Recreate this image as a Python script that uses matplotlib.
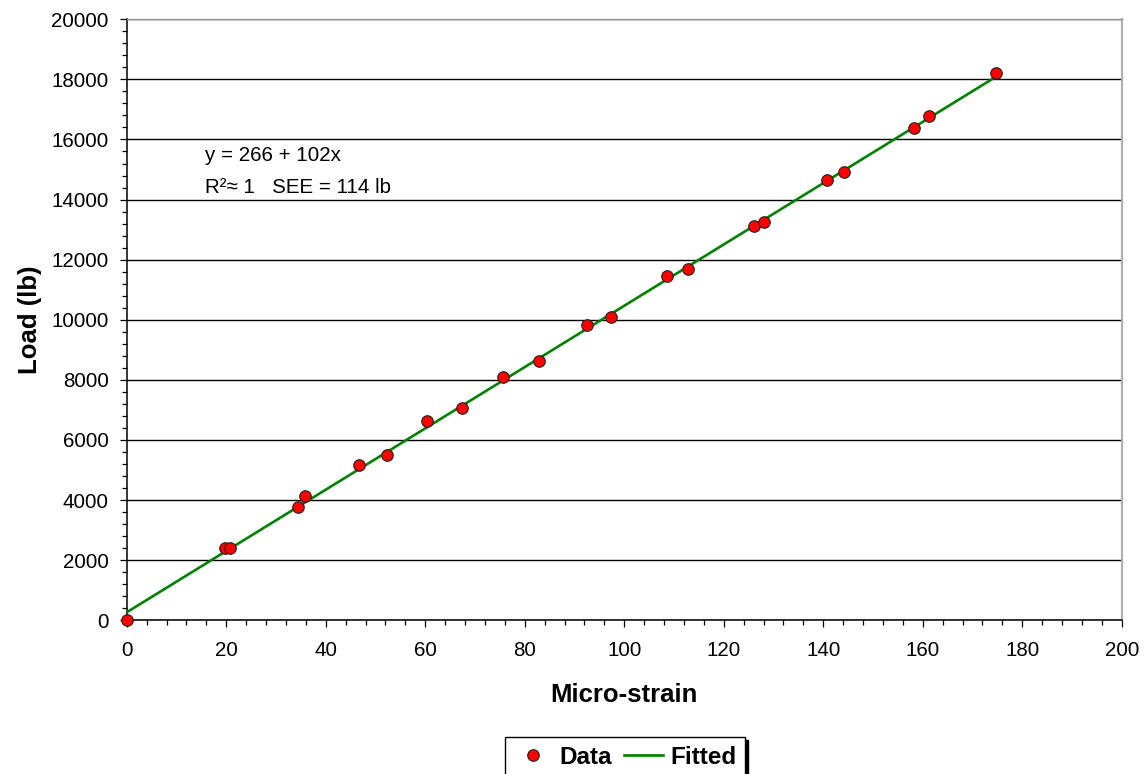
import matplotlib
matplotlib.use("Agg")
import matplotlib.pyplot as plt
from matplotlib.ticker import MultipleLocator
import numpy as np

plt.rcParams['font.family'] = ['Liberation Sans', 'DejaVu Sans']

# Calibration readings
strain = [0, 19.8, 20.8, 34.5, 35.8, 46.6, 52.3, 60.3, 67.3, 75.6, 82.9,
          92.6, 97.3, 108.6, 112.8, 126.1, 128.0, 140.8, 144.2, 158.2,
          161.2, 174.7]
load = [0, 2400, 2400, 3770, 4126, 5158, 5500, 6622, 7075, 8107, 8629,
        9837, 10100, 11448, 11700, 13121, 13255, 14652, 14918, 16373,
        16772, 18200]

# Linear fit parameters
intercept = 266
slope = 102
see = 114

fig = plt.figure(figsize=(11.46, 7.74), dpi=100)
ax = fig.add_axes([0.1106, 0.1986, 0.8682, 0.7765])

fit_x = np.array([min(strain), max(strain)])
fit_y = intercept + slope * fit_x
line_fit, = ax.plot(fit_x, fit_y, color='#008000', lw=1.9, zorder=3, label='Fitted')
pts, = ax.plot(strain, load, linestyle='none', marker='o', markersize=8.3,
               markerfacecolor='#ff0000', markeredgecolor='#202020',
               markeredgewidth=0.8, zorder=4, clip_on=False, label='Data')

ax.set_xlim(0, 200)
ax.set_ylim(0, 20000)
ax.xaxis.set_major_locator(MultipleLocator(20))
ax.xaxis.set_minor_locator(MultipleLocator(4))
ax.yaxis.set_major_locator(MultipleLocator(2000))
ax.yaxis.set_minor_locator(MultipleLocator(400))

ax.yaxis.grid(True, which='major', color='black', lw=1.0)
ax.set_axisbelow(True)

ax.tick_params(axis='both', which='major', direction='out', length=5,
               width=0.9, labelsize=14.8, color='black')
ax.tick_params(axis='both', which='minor', direction='out', length=3.5,
               width=0.9, color='black')
ax.tick_params(axis='x', which='major', pad=10)
ax.tick_params(axis='y', which='major', pad=8)

for side in ('left', 'bottom'):
    ax.spines[side].set_color('black')
    ax.spines[side].set_linewidth(1.1)
ax.spines['top'].set_color('#9a9a9a')
ax.spines['top'].set_linewidth(1.0)
ax.spines['right'].set_color('#b0b0b0')
ax.spines['right'].set_linewidth(1.6)

ax.set_xlabel('Micro-strain', fontsize=18.5, fontweight='bold')
ax.xaxis.label.set_va('center')
ax.xaxis.set_label_coords(0.5, -0.124)
ax.set_ylabel('Load (lb)', fontsize=18.5, fontweight='bold')
ax.yaxis.label.set_va('center')
ax.yaxis.set_label_coords(-0.097, 0.5)

ax.text(15.7, 15285, f'y = {intercept} + {slope}x', fontsize=14.8,
        va='baseline', ha='left')
ax.text(15.7, 14226, f'R\u00b2\u2248 1   SEE = {see} lb', fontsize=14.8,
        va='baseline', ha='left')

leg = fig.legend(handles=[pts, line_fit], labels=['Data', 'Fitted'],
                 loc='upper left', bbox_to_anchor=(505 / 1146, 1 - 737 / 774),
                 bbox_transform=fig.transFigure, borderaxespad=0, ncol=2,
                 prop=dict(weight='bold', size=17.5), handlelength=1.6,
                 handletextpad=0.3, columnspacing=0.5, borderpad=0.35,
                 fancybox=False, framealpha=1, edgecolor='black',
                 shadow={'color': 'black', 'alpha': 1})
leg.get_frame().set_linewidth(1.0)

fig.savefig('out.png', dpi=100)
